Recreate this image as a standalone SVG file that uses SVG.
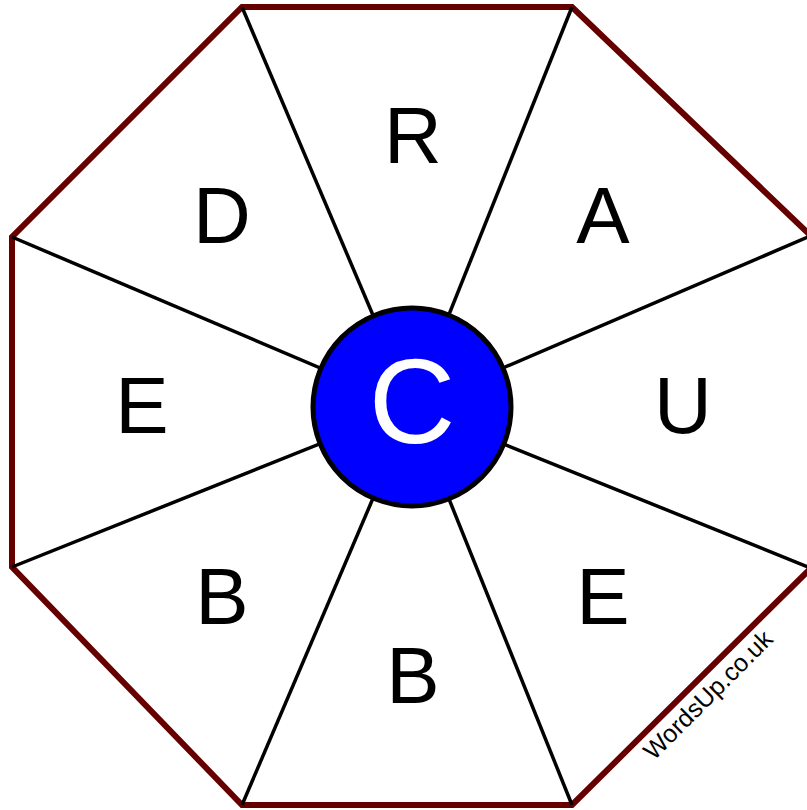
<svg xmlns="http://www.w3.org/2000/svg" width="807" height="810" viewBox="0 0 807 810">
<style>
.spoke{stroke:#000;stroke-width:3.5;fill:none}
.lt{font-family:"Liberation Sans",Arial,sans-serif;font-size:80px;fill:#000;text-anchor:middle}
</style>
<rect width="807" height="810" fill="#fff"/>
<g id="octagon">
<polygon points="242,7 572,7 812,237 812,567 572,805 242,805 12,567 12,237" fill="#fff" stroke="#660000" stroke-width="6" stroke-linejoin="miter"/>
</g>
<g id="connectors">
<line class="spoke" x1="412" y1="407" x2="242" y2="7"/>
<line class="spoke" x1="412" y1="407" x2="572" y2="7"/>
<line class="spoke" x1="412" y1="407" x2="808" y2="237"/>
<line class="spoke" x1="412" y1="407" x2="808" y2="567"/>
<line class="spoke" x1="412" y1="407" x2="572" y2="805"/>
<line class="spoke" x1="412" y1="407" x2="242" y2="805"/>
<line class="spoke" x1="412" y1="407" x2="12" y2="567"/>
<line class="spoke" x1="412" y1="407" x2="12" y2="237"/>
</g>
<g id="center">
<circle cx="412" cy="407" r="99" fill="#0000ff" stroke="#000" stroke-width="5"/>
<text x="412" y="443" font-family="Liberation Sans,Arial,sans-serif" font-size="120" fill="#fff" text-anchor="middle">C</text>
</g>
<g id="seg-R"><text class="lt" x="413" y="163">R</text></g>
<g id="seg-A"><text class="lt" x="603" y="243">A</text></g>
<g id="seg-U"><text class="lt" x="683" y="433">U</text></g>
<g id="seg-E2"><text class="lt" x="603" y="624">E</text></g>
<g id="seg-B2"><text class="lt" x="413" y="703">B</text></g>
<g id="seg-B1"><text class="lt" x="222" y="624">B</text></g>
<g id="seg-E1"><text class="lt" x="142" y="433">E</text></g>
<g id="seg-D"><text class="lt" x="222" y="243">D</text></g>
<g id="credit"><text transform="translate(714,701) rotate(-45)" font-family="Liberation Sans,Arial,sans-serif" font-size="25" fill="#000" text-anchor="middle">WordsUp.co.uk</text></g>
</svg>
